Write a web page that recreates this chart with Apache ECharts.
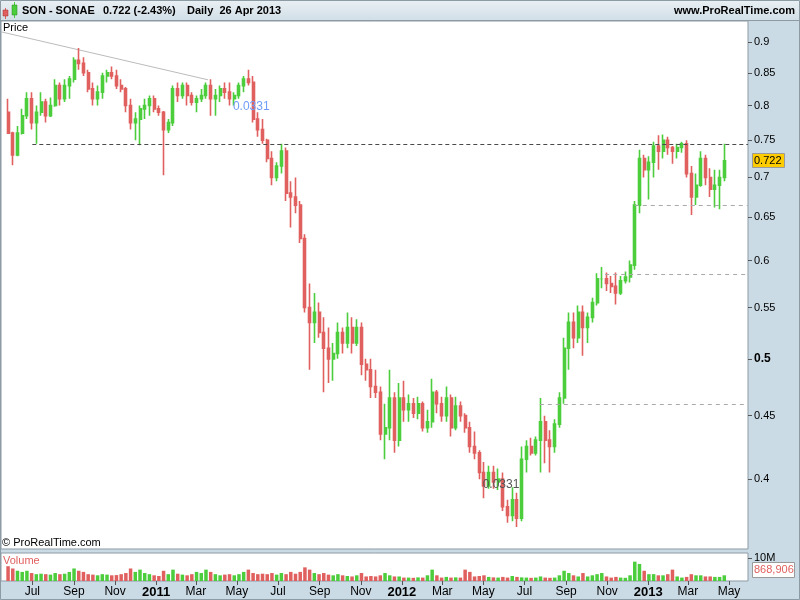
<!DOCTYPE html>
<html><head><meta charset="utf-8">
<script src="https://cdn.jsdelivr.net/npm/echarts@6/dist/echarts.min.js"></script>
<style>html,body{margin:0;padding:0;background:#cbdbe5}#c{width:800px;height:600px}</style>
</head><body><div id="c"></div>
<script>
// ---- data (weekly bars; last bar = week of 26 Apr 2013) ----
const lastWeekMid = [2013, 4, 24];
const opens = [
0.79,0.76,0.73,0.76,0.785,0.81,0.775,0.79,0.805,0.785,
0.80,0.83,0.81,0.83,0.84,0.87,0.865,0.85,0.825,0.81,
0.82,0.845,0.85,0.845,0.83,0.825,0.80,0.775,0.78,0.795,
0.80,0.81,0.795,0.79,0.765,0.775,0.825,0.815,0.83,0.815,
0.805,0.81,0.815,0.83,0.81,0.815,0.825,0.82,0.81,0.815,
0.83,0.84,0.835,0.78,0.765,0.75,0.725,0.70,0.715,0.735,
0.68,0.675,0.665,0.625,0.55,0.535,0.545,0.525,0.51,0.50,
0.505,0.525,0.515,0.53,0.515,0.53,0.495,0.49,0.475,0.47,
0.435,0.44,0.465,0.43,0.465,0.455,0.46,0.452,0.46,0.44,
0.445,0.47,0.46,0.45,0.465,0.44,0.458,0.45,0.44,0.425,
0.42,0.405,0.395,0.405,0.398,0.40,0.38,0.374,0.385,0.372,
0.415,0.425,0.42,0.43,0.445,0.43,0.425,0.443,0.465,0.51,
0.535,0.52,0.545,0.53,0.54,0.555,0.58,0.58,0.575,0.572,
0.565,0.578,0.582,0.595,0.665,0.725,0.71,0.72,0.742,0.735,
0.75,0.74,0.735,0.74,0.745,0.705,0.675,0.69,0.725,0.70,
0.685,0.69,0.70];
const highs = [
0.81,0.762,0.77,0.795,0.82,0.82,0.80,0.82,0.81,0.812,
0.84,0.835,0.84,0.845,0.875,0.89,0.875,0.855,0.835,0.83,
0.85,0.855,0.86,0.855,0.84,0.828,0.81,0.79,0.80,0.81,
0.815,0.815,0.80,0.792,0.78,0.83,0.835,0.835,0.835,0.82,
0.815,0.825,0.835,0.84,0.825,0.83,0.835,0.835,0.82,0.835,
0.845,0.855,0.845,0.79,0.78,0.752,0.735,0.72,0.745,0.74,
0.695,0.70,0.67,0.63,0.575,0.565,0.555,0.54,0.53,0.515,
0.535,0.53,0.545,0.54,0.538,0.535,0.50,0.50,0.49,0.475,
0.46,0.49,0.47,0.478,0.48,0.468,0.465,0.466,0.462,0.455,
0.482,0.472,0.466,0.475,0.468,0.466,0.462,0.452,0.445,0.437,
0.422,0.413,0.41,0.41,0.408,0.405,0.385,0.394,0.39,0.425,
0.43,0.432,0.433,0.465,0.45,0.438,0.447,0.47,0.52,0.545,
0.545,0.552,0.552,0.545,0.56,0.586,0.593,0.587,0.583,0.587,
0.583,0.588,0.60,0.67,0.737,0.73,0.728,0.748,0.757,0.758,
0.755,0.742,0.745,0.748,0.75,0.715,0.705,0.735,0.73,0.712,
0.71,0.71,0.745];
const lows = [
0.765,0.716,0.728,0.758,0.78,0.765,0.745,0.785,0.775,0.783,
0.798,0.80,0.805,0.81,0.835,0.855,0.845,0.82,0.80,0.80,
0.81,0.835,0.84,0.825,0.82,0.79,0.765,0.75,0.743,0.78,
0.785,0.79,0.785,0.703,0.76,0.77,0.805,0.81,0.80,0.80,
0.79,0.805,0.81,0.785,0.785,0.805,0.81,0.80,0.80,0.81,
0.82,0.83,0.775,0.755,0.745,0.72,0.69,0.695,0.705,0.67,
0.638,0.655,0.62,0.545,0.49,0.515,0.52,0.47,0.478,0.48,
0.50,0.505,0.51,0.505,0.512,0.485,0.48,0.465,0.465,0.43,
0.415,0.43,0.42,0.425,0.445,0.445,0.448,0.447,0.437,0.436,
0.44,0.452,0.445,0.445,0.433,0.438,0.445,0.436,0.42,0.415,
0.40,0.386,0.393,0.393,0.392,0.377,0.369,0.37,0.366,0.37,
0.405,0.418,0.418,0.405,0.412,0.405,0.42,0.44,0.46,0.49,
0.51,0.515,0.503,0.515,0.535,0.552,0.57,0.567,0.565,0.553,
0.563,0.575,0.576,0.59,0.655,0.70,0.672,0.70,0.71,0.725,
0.73,0.718,0.725,0.733,0.70,0.653,0.665,0.688,0.69,0.675,
0.662,0.66,0.695];
const closes = [
0.76,0.73,0.76,0.785,0.81,0.775,0.79,0.805,0.785,0.80,
0.83,0.81,0.83,0.84,0.87,0.865,0.85,0.825,0.81,0.82,
0.845,0.85,0.845,0.83,0.825,0.80,0.775,0.78,0.795,0.80,
0.81,0.795,0.79,0.765,0.775,0.825,0.815,0.83,0.815,0.805,
0.81,0.815,0.83,0.81,0.815,0.825,0.82,0.81,0.815,0.83,
0.84,0.835,0.78,0.765,0.75,0.725,0.70,0.715,0.735,0.68,
0.675,0.665,0.625,0.55,0.535,0.545,0.525,0.51,0.50,0.505,
0.525,0.515,0.53,0.515,0.53,0.495,0.49,0.475,0.47,0.435,
0.44,0.465,0.43,0.465,0.455,0.46,0.452,0.46,0.44,0.445,
0.47,0.46,0.45,0.465,0.44,0.458,0.45,0.44,0.425,0.42,
0.405,0.395,0.405,0.398,0.40,0.38,0.374,0.385,0.372,0.415,
0.425,0.42,0.43,0.445,0.43,0.425,0.443,0.465,0.51,0.535,
0.52,0.545,0.53,0.54,0.555,0.58,0.58,0.575,0.572,0.565,
0.578,0.582,0.595,0.665,0.725,0.71,0.72,0.742,0.735,0.75,
0.74,0.735,0.74,0.745,0.705,0.675,0.69,0.725,0.70,0.685,
0.69,0.70,0.722];
// average daily volume per week, millions
const volumes = [
6.5,5.5,4.5,4.0,4.5,3.5,3.0,3.2,3.0,2.8,
3.5,3.0,3.2,4.0,5.5,4.5,4.0,3.0,2.8,2.5,
3.0,2.8,2.5,2.6,3.0,3.5,5.5,4.0,5.0,3.5,
3.0,2.5,2.2,4.5,3.0,5.0,3.2,2.8,2.5,3.0,
4.0,3.5,5.0,4.0,3.0,2.5,2.8,3.0,2.5,3.0,
4.0,5.0,3.5,3.0,3.2,3.0,3.5,2.8,3.5,3.0,
4.0,3.2,4.0,6.0,5.0,3.5,3.0,3.5,2.8,2.5,
3.0,2.5,2.2,2.0,2.5,3.5,2.0,2.2,2.0,2.5,
3.5,2.5,2.0,2.0,1.5,1.5,1.4,1.6,1.5,2.5,
5.0,2.5,1.5,1.8,1.5,1.6,1.5,5.0,4.0,2.0,
2.2,2.5,1.8,1.6,1.5,1.8,1.5,2.2,1.8,1.6,
1.5,1.4,1.5,2.0,1.5,1.4,1.5,2.5,4.5,3.5,
2.5,2.0,3.5,2.0,2.5,3.0,3.5,2.0,1.5,1.8,
1.5,1.4,2.5,8.5,7.5,4.5,3.0,3.0,2.5,2.5,
3.0,5.0,2.0,1.5,1.8,3.0,2.5,2.5,2.0,2.0,
1.8,1.8,2.5];
const lastDayVolume = '868,906';
const priceTicks = [0.4,0.45,0.5,0.55,0.6,0.65,0.7,0.75,0.8,0.85,0.9];
const volumeTicks = [10e6];
const monthTicks = [[2010,7],[2010,9],[2010,11],[2011,1],[2011,3],[2011,5],[2011,7],[2011,9],[2011,11],
  [2012,1],[2012,3],[2012,5],[2012,7],[2012,9],[2012,11],[2013,1],[2013,3],[2013,5]];
const monthNames = ['Jan','Feb','Mar','Apr','May','Jun','Jul','Aug','Sep','Oct','Nov','Dec'];
// horizontal levels: [start date, price]
const resistance = [[2010,7,1], 0.745];
const greyLevels = [[[2012,12,12], 0.665], [[2012,10,29], 0.585], [[2012,7,24], 0.46]];
const trendLine = [[[2010,5,16], 0.917], [[2011,3,19], 0.839]];
const notes = [[[2011,4,25], 0.7975, '0.0331', '#6f9cf7'], [[2012,4,30], 0.3957, '0.0331', '#555555']];

// ---- chart ----
const ts = (y, m, d, h) => new Date(y, m - 1, d, h || 0).getTime();
const xStart = ts(2010,5,15,12), xEnd = ts(2013,5,29,5);
const FONT = '"Liberation Sans", Arial, sans-serif';
const UP = '#4ccd3c', DOWN = '#e0605f';
const N = closes.length;
const dates = closes.map((_, i) => new Date(lastWeekMid[0], lastWeekMid[1]-1, lastWeekMid[2] - 7*(N-1-i)).getTime());
const candles = dates.map((d, i) => [d, opens[i], closes[i], lows[i], highs[i]]);
const vols = dates.map((d, i) => ({value: [d, volumes[i]*1e6], itemStyle: {color: closes[i] >= opens[i] ? UP : DOWN}}));
const monthTs = monthTicks.map(a => ts(a[0], a[1], 1));

const chart = echarts.init(document.getElementById('c'));
const lineData = [];
lineData.push([{coord: [ts(...resistance[0]), resistance[1]], lineStyle: {color: '#4a4a4a', type: [4,3], width: 1}}, {coord: [xEnd, resistance[1]]}]);
greyLevels.forEach(l => lineData.push([{coord: [ts(...l[0]), l[1]], lineStyle: {color: '#a9a9a9', type: [4,4], width: 1}}, {coord: [xEnd, l[1]]}]));

chart.setOption({
  animation: false,
  backgroundColor: '#cbdbe5',
  grid: [
    {left: 1, right: 52, top: 21, height: 528, show: true, backgroundColor: '#fff', borderColor: '#8d9ba5', borderWidth: 1},
    {left: 1, right: 52, top: 553, height: 28, show: true, backgroundColor: '#fff', borderColor: '#8d9ba5', borderWidth: 1}
  ],
  xAxis: [
    {type: 'value', gridIndex: 0, min: xStart, max: xEnd, show: false, scale: true},
    {type: 'value', gridIndex: 1, min: xStart, max: xEnd, scale: true,
     axisLine: {show: false}, splitLine: {show: false},
     axisTick: {show: true, customValues: monthTs, length: 4, lineStyle: {color: '#555'}},
     axisLabel: {customValues: monthTs, margin: 5, color: '#000', fontFamily: FONT, fontSize: 12, hideOverlap: false,
       formatter: v => { const d = new Date(v); return d.getMonth() === 0 ? '{y|' + d.getFullYear() + '}' : '{m|' + monthNames[d.getMonth()] + '}'; },
       rich: {y: {fontWeight: 'bold', fontSize: 13, fontFamily: FONT, color: '#000'}, m: {fontSize: 12, fontFamily: FONT, color: '#000'}}}}
  ],
  yAxis: [
    {type: 'log', gridIndex: 0, position: 'right', min: 0.3514, max: 0.9357,
     axisLine: {show: false}, splitLine: {show: false},
     axisTick: {show: true, customValues: priceTicks, length: 4, lineStyle: {color: '#555'}},
     axisLabel: {customValues: priceTicks, margin: 6, color: '#000', fontFamily: FONT, fontSize: 11,
       formatter: v => { const s = String(+(+v).toFixed(2)); return Math.abs(v - 0.5) < 1e-6 ? '{b|' + s + '}' : s; },
       rich: {b: {fontWeight: 'bold', fontSize: 12, fontFamily: FONT, color: '#000'}}}},
    {type: 'value', gridIndex: 1, position: 'right', min: 0, max: 12.3e6,
     axisLine: {show: false}, splitLine: {show: false},
     axisTick: {show: true, customValues: volumeTicks, length: 4, lineStyle: {color: '#555'}},
     axisLabel: {customValues: volumeTicks, margin: 6, color: '#000', fontFamily: FONT, fontSize: 11, formatter: v => (v/1e6) + 'M'}}
  ],
  series: [
    {type: 'line', xAxisIndex: 0, yAxisIndex: 0, silent: true, symbol: 'none', z: 1,
     data: trendLine.map(p => [ts(...p[0]), p[1]]), lineStyle: {color: '#bcbcbc', width: 1}},
    {type: 'candlestick', xAxisIndex: 0, yAxisIndex: 0, data: candles, barWidth: 2.5,
     encode: {x: 0, y: [1,2,3,4]},
     itemStyle: {color: UP, color0: DOWN, borderColor: UP, borderColor0: DOWN, borderWidth: 1.6},
     markLine: {silent: true, symbol: ['none','none'], label: {show: false}, data: lineData},
     markPoint: {silent: true, symbol: 'circle', symbolSize: 0,
       data: notes.map(n => ({coord: [ts(...n[0]), n[1]], label: {show: true, formatter: n[2], position: 'right', distance: 0, color: n[3], fontSize: 12, fontFamily: FONT}}))}},
    {type: 'bar', xAxisIndex: 1, yAxisIndex: 1, data: vols, barWidth: 3.5}
  ]
});

const yLast = chart.convertToPixel({yAxisIndex: 0}, closes[N-1]);
const T = (text, x, y, o) => Object.assign({type: 'text', x: x, y: y, z: 100, style: Object.assign({text: text, font: '11px ' + FONT, fill: '#000', verticalAlign: 'middle'}, o || {})});
chart.setOption({graphic: [
  {type: 'rect', shape: {x: 0, y: 0, width: 800, height: 20}, z: 90,
   style: {fill: new echarts.graphic.LinearGradient(0,0,0,1,[{offset:0,color:'#e9f0f4'},{offset:1,color:'#d2dfe7'}])}},
  {type: 'line', shape: {x1: 0, y1: 20.5, x2: 800, y2: 20.5}, z: 91, style: {stroke: '#8d9ba5'}},
  {type: 'rect', shape: {x: 0.5, y: 0.5, width: 799, height: 599}, z: 91, style: {fill: 'none', stroke: '#8d9ba5'}},
  {type: 'line', shape: {x1: 5.5, y1: 8, x2: 5.5, y2: 19}, z: 92, style: {stroke: DOWN}},
  {type: 'rect', shape: {x: 3, y: 10, width: 5, height: 6}, z: 93, style: {fill: DOWN, stroke: '#a03030', lineWidth: 0.5}},
  {type: 'line', shape: {x1: 14.5, y1: 2, x2: 14.5, y2: 18}, z: 92, style: {stroke: UP}},
  {type: 'rect', shape: {x: 12, y: 5, width: 5, height: 10}, z: 93, style: {fill: UP, stroke: '#2a8a20', lineWidth: 0.5}},
  T('SON - SONAE', 22, 11, {font: 'bold 11px ' + FONT}),
  T('0.722 (-2.43%)', 103, 11, {font: 'bold 11px ' + FONT}),
  T('Daily  26 Apr 2013', 187, 11, {font: 'bold 11px ' + FONT}),
  T('www.ProRealTime.com', 795, 11, {font: 'bold 11px ' + FONT, align: 'right'}),
  T('Price', 3, 28),
  T('\u00a9 ProRealTime.com', 2, 543),
  Object.assign(T('Volume', 3, 561, {fill: DOWN}), {z: 1}),
  {type: 'rect', shape: {x: 752.5, y: Math.round(yLast) - 7.5, width: 32, height: 14}, z: 100, style: {fill: '#ffcc00', stroke: '#9a9a9a'}},
  T(String(closes[N-1]), 754, Math.round(yLast)),
  {type: 'rect', shape: {x: 752.5, y: 562.5, width: 42, height: 15}, z: 100, style: {fill: '#fff', stroke: '#9a9a9a'}},
  T(lastDayVolume, 754, 570, {fill: DOWN})
]});
</script></body></html>
